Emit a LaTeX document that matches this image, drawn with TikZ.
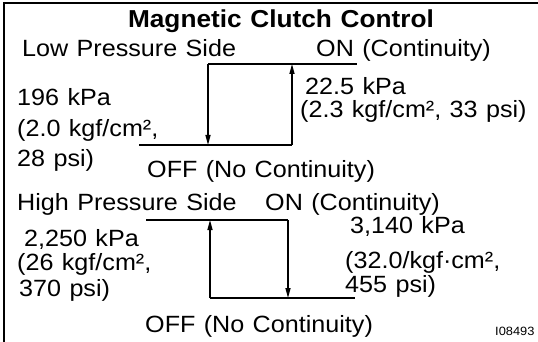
\documentclass[tikz,border=0pt]{standalone}
\usepackage{fontspec}
\setmainfont{Liberation Sans}[WordSpace=1.2,FakeStretch=1.07]
\usetikzlibrary{arrows.meta}
\tikzset{
  lbl/.style={inner sep=0pt, anchor=base west, font=\fontsize{23.5}{28}\selectfont},
  ttl/.style={inner sep=0pt, anchor=base, font=\fontsize{24.5}{28}\selectfont\bfseries},
  small/.style={inner sep=0pt, anchor=base west, font=\fontsize{12}{14}\selectfont},
  ln/.style={line width=1.4pt},
  arr/.style={-{Triangle[length=10pt,width=5pt]}},
  frame/.style={line width=2pt}
}
\begin{document}
\begin{tikzpicture}[x=1pt,y=-1pt]
\useasboundingbox (0,0) rectangle (538,342);
% frame
\coordinate (f1) at (4,342);
\coordinate (f2) at (4,3.5);
\coordinate (f3) at (538,3.5);
\draw[frame] (f1) -- (f2) -- (f3);
% title
\node[ttl] (title) at (281,28) {Magnetic Clutch Control};
% low side
\node[lbl] (lowside) at (22,57) {Low Pressure Side};
\node[lbl] (lowon) at (316,57) {ON (Continuity)};
\node[lbl] (l196) at (17,106) {196 kPa};
\node[lbl] (l20) at (17,137) {(2.0 kgf/cm²,};
\node[lbl] (l28) at (17,167) {28 psi)};
\node[lbl] (l225) at (305,95) {22.5 kPa};
\node[lbl] (l23) at (300,118) {(2.3 kgf/cm², 33 psi)};
\node[lbl] (lowoff) at (147,177) {OFF (No Continuity)};
\coordinate (lt1) at (208,64);
\coordinate (lt2) at (357,64);
\coordinate (lb1) at (139,145);
\coordinate (lb2) at (292,145);
\coordinate (ld) at (208,145);
\coordinate (lu) at (292,64);
\draw[ln] (lt1) -- (lt2);
\draw[ln] (lb1) -- (lb2);
\draw[ln,arr] (lt1) -- (ld);
\draw[ln,arr] (lb2) -- (lu);
% high side
\node[lbl] (highside) at (17,210) {High Pressure Side};
\node[lbl] (highon) at (265,210) {ON (Continuity)};
\node[lbl] (h3140) at (350,233) {3,140 kPa};
\node[lbl] (h2250) at (24,246) {2,250 kPa};
\node[lbl] (h26) at (17,270) {(26 kgf/cm²,};
\node[lbl] (h370) at (19,296) {370 psi)};
\node[lbl] (h320) at (345,268) {(32.0/kgf·cm²,};
\node[lbl] (h455) at (345,292) {455 psi)};
\node[lbl] (highoff) at (145,332) {OFF (No Continuity)};
\node[small] (code) at (495,335) {I08493};
\coordinate (ht1) at (146,220);
\coordinate (ht2) at (288,220);
\coordinate (hb1) at (210,298);
\coordinate (hb2) at (355,298);
\coordinate (hu) at (210,220);
\coordinate (hd) at (288,298);
\draw[ln] (ht1) -- (ht2);
\draw[ln] (hb1) -- (hb2);
\draw[ln,arr] (hb1) -- (hu);
\draw[ln,arr] (ht2) -- (hd);
\end{tikzpicture}
\end{document}
